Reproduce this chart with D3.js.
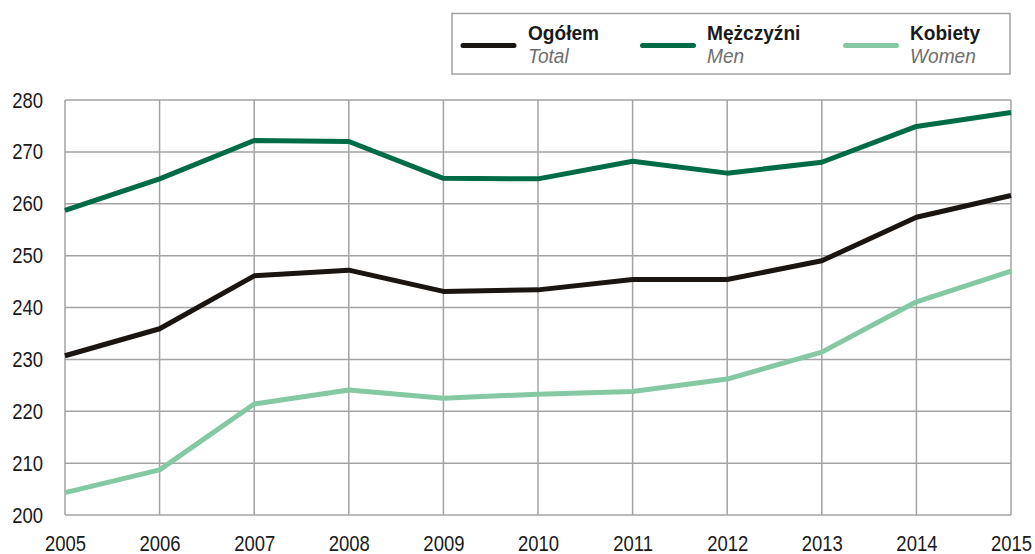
<!DOCTYPE html>
<html>
<head>
<meta charset="utf-8">
<script src="https://cdn.jsdelivr.net/npm/d3@7"></script>
<style>
  html, body { margin: 0; padding: 0; background: #fff; }
  svg { display: block; }
  text { font-family: "Liberation Sans", Arial, sans-serif; }
</style>
</head>
<body>
<svg id="chart"></svg>
<script>
// dane
const years = [2005, 2006, 2007, 2008, 2009, 2010, 2011, 2012, 2013, 2014, 2015];
const ogolem = [230.7, 235.9, 246.1, 247.2, 243.1, 243.4, 245.4, 245.4, 249.0, 257.4, 261.6];
const mezczyzni = [258.7, 264.8, 272.2, 272.0, 264.9, 264.8, 268.2, 265.9, 268.0, 274.9, 277.6];
const kobiety = [204.3, 208.7, 221.4, 224.1, 222.5, 223.3, 223.8, 226.2, 231.4, 241.1, 247.0];
const yTicks = [200, 210, 220, 230, 240, 250, 260, 270, 280];

const series = [
  { pl: "Ogółem", en: "Total", values: ogolem, color: "#1b1511" },
  { pl: "Mężczyźni", en: "Men", values: mezczyzni, color: "#006c45" },
  { pl: "Kobiety", en: "Women", values: kobiety, color: "#84c9a4" }
];

const width = 1035, height = 554;
const margin = { top: 100, right: 24, bottom: 39, left: 65 };
const narrow = 0.84; // brak czcionki Narrow -> ściśnięcie w poziomie

const svg = d3.select("#chart")
  .attr("width", width)
  .attr("height", height);

const x = d3.scaleLinear()
  .domain([2005, 2015])
  .range([margin.left, width - margin.right]);
const y = d3.scaleLinear()
  .domain([200, 280])
  .range([height - margin.bottom, margin.top]);

const grid = "#a3a3a3";

// siatka pionowa
svg.append("g")
  .selectAll("line")
  .data(years)
  .join("line")
  .attr("x1", d => x(d)).attr("x2", d => x(d))
  .attr("y1", y(200)).attr("y2", y(280))
  .attr("stroke", grid).attr("stroke-width", 1.5);

// siatka pozioma
svg.append("g")
  .selectAll("line")
  .data(yTicks)
  .join("line")
  .attr("x1", x(2005)).attr("x2", x(2015))
  .attr("y1", d => y(d)).attr("y2", d => y(d))
  .attr("stroke", grid).attr("stroke-width", 1.5);

// osie
const yAxis = svg.append("g")
  .attr("transform", `translate(${margin.left},0)`)
  .call(d3.axisLeft(y).tickValues(yTicks).tickSize(0));
yAxis.select(".domain").remove();
yAxis.selectAll("text")
  .attr("x", -22 / narrow)
  .attr("transform", `scale(${narrow},1)`)
  .attr("font-size", 22)
  .attr("font-family", null)
  .attr("fill", "#1a1a1a");

const xAxis = svg.append("g")
  .attr("transform", `translate(0,${height - margin.bottom})`)
  .call(d3.axisBottom(x).tickValues(years).tickFormat(d3.format("d")).tickSize(0).tickPadding(20));
xAxis.select(".domain").remove();
xAxis.selectAll("text")
  .attr("transform", `scale(${narrow},1)`)
  .attr("font-size", 22)
  .attr("font-family", null)
  .attr("fill", "#1a1a1a");

// linie
const line = d3.line()
  .x((d, i) => x(years[i]))
  .y(d => y(d));

svg.append("g")
  .selectAll("path")
  .data(series)
  .join("path")
  .attr("d", d => line(d.values))
  .attr("fill", "none")
  .attr("stroke", d => d.color)
  .attr("stroke-width", 5)
  .attr("stroke-linejoin", "round")
  .attr("stroke-linecap", "butt");

// legenda
svg.append("rect")
  .attr("x", 452).attr("y", 13.5)
  .attr("width", 558).attr("height", 60.5)
  .attr("fill", "#fff")
  .attr("stroke", "#a0a0a0").attr("stroke-width", 1.5);

const legendX = [463, 642.5, 845.5];
const textX = [528, 707, 910];
const legNarrow = 0.91;
const leg = svg.append("g")
  .selectAll("g")
  .data(series)
  .join("g");

leg.append("line")
  .attr("x1", (d, i) => legendX[i]).attr("x2", (d, i) => legendX[i] + 51)
  .attr("y1", 45.5).attr("y2", 45.5)
  .attr("stroke", d => d.color)
  .attr("stroke-width", 5)
  .attr("stroke-linecap", "round");

leg.append("text")
  .attr("transform", (d, i) => `translate(${textX[i]},40) scale(${legNarrow},1)`)
  .attr("font-size", 21)
  .attr("font-weight", "bold")
  .attr("fill", "#1a1a1a")
  .text(d => d.pl);

leg.append("text")
  .attr("transform", (d, i) => `translate(${textX[i]},63) scale(${legNarrow},1)`)
  .attr("font-size", 21)
  .attr("font-style", "italic")
  .attr("fill", "#6e6e6e")
  .text(d => d.en);
</script>
</body>
</html>
